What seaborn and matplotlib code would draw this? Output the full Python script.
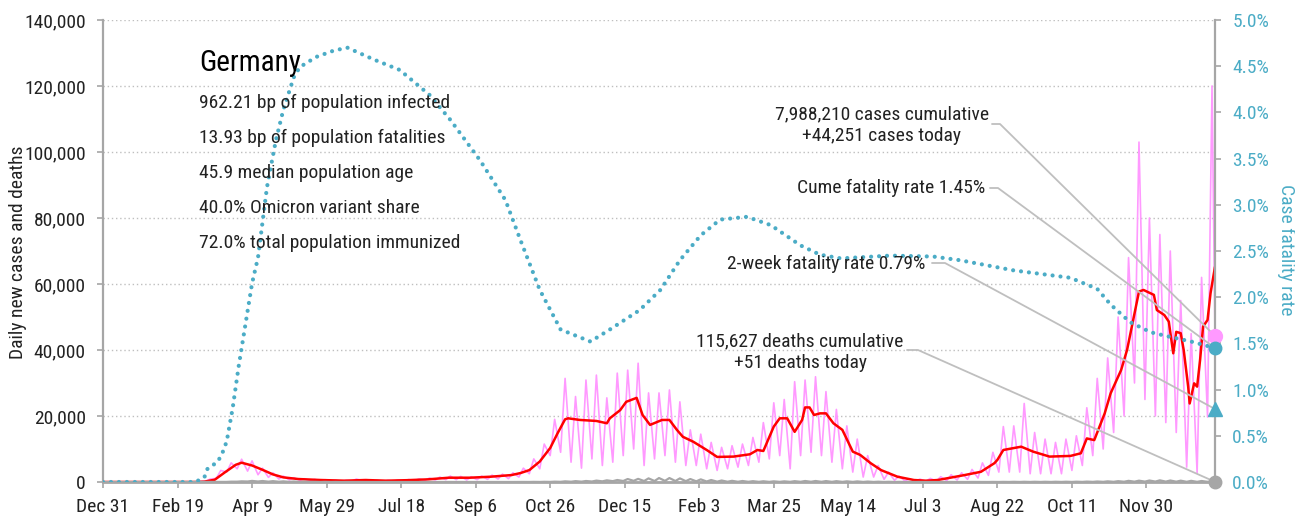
import pandas as pd
import numpy as np
import matplotlib
matplotlib.use('Agg')
import matplotlib.pyplot as plt
import matplotlib.dates as mdates
from matplotlib.lines import Line2D
from matplotlib.transforms import IdentityTransform
from matplotlib.ticker import FuncFormatter
from matplotlib import font_manager
import seaborn as sns

start = '2019-12-31'
end = '2022-01-15'

# daily new cases, read twice a week (monday low / thursday high), from Mon 2020-03-02
cases_mon = [30, 300, 1100, 3000, 4000, 3300, 2200, 1400, 900, 600, 500, 400, 300, 250,
             200, 300, 400, 250, 200, 250, 300, 400, 500, 600, 700, 700, 600, 700,
             800, 900, 1000, 1500, 2500, 4000, 8000, 9000, 6000, 4200, 7000, 5000, 6000, 8000,
             10000, 5000, 7000, 8000, 6000, 5000, 5000, 4000, 3500, 4000, 4500, 5000, 6000, 7000,
             8000, 4000, 8000, 9000, 8000, 6000, 4000, 3000, 1500, 1500, 800, 500, 300, 200,
             200, 300, 400, 600, 800, 1200, 2000, 3000, 3000, 3000, 2500, 2500, 2500, 2500,
             3500, 5000, 8000, 10000, 15000, 20000, 30000, 25000, 20000, 18000, 15000, 4500, 2700, 19700]
cases_thu = [110, 900, 3500, 5800, 6900, 6400, 4200, 2800, 1800, 1300, 1000, 800, 700, 550,
             500, 900, 700, 550, 500, 600, 750, 950, 1200, 1500, 1800, 1700, 1600, 1800,
             2100, 2400, 2800, 4200, 7000, 11500, 19000, 31400, 25900, 30900, 32400, 25500, 33000, 33900,
             36000, 27000, 27000, 27900, 24300, 15800, 14500, 12000, 10500, 11000, 11500, 13500, 18000, 24000,
             25000, 30400, 30900, 31900, 27400, 22000, 17000, 13000, 8000, 5000, 3000, 1800, 1000, 900,
             1100, 1600, 2200, 2800, 3800, 5800, 9000, 16800, 17000, 23800, 15000, 13000, 12000, 13000,
             14000, 22500, 31400, 37600, 50000, 68000, 103000, 80000, 75000, 70000, 55000, 45000, 62000, 120000]
cases_today = 44251

deaths_mon = [0, 0, 5, 30, 100, 150, 150, 100, 80, 40, 20, 15, 10, 5,
              5, 3, 2, 2, 1, 1, 1, 1, 1, 2, 2, 2, 2, 2,
              3, 3, 4, 5, 10, 15, 30, 50, 80, 100, 150, 200, 250, 300,
              350, 300, 300, 350, 300, 250, 200, 150, 100, 80, 70, 60, 50, 40,
              40, 50, 60, 70, 60, 50, 40, 30, 20, 15, 10, 8, 5, 3,
              2, 2, 2, 3, 4, 5, 8, 10, 15, 15, 15, 15, 15, 20,
              20, 30, 40, 50, 60, 80, 100, 120, 130, 120, 100, 60, 50, 60]
deaths_thu = [0, 2, 20, 100, 200, 330, 300, 260, 200, 150, 100, 60, 50, 30,
              25, 20, 15, 10, 10, 8, 8, 8, 8, 10, 10, 10, 10, 10,
              12, 15, 18, 20, 40, 60, 100, 200, 260, 300, 420, 500, 600, 900,
              950, 1100, 1200, 1200, 1100, 900, 800, 600, 450, 350, 300, 250, 220, 200,
              200, 250, 300, 300, 280, 250, 200, 180, 130, 90, 60, 40, 30, 20,
              15, 15, 15, 15, 20, 20, 30, 40, 60, 70, 70, 70, 75, 80,
              90, 120, 150, 200, 250, 350, 400, 450, 500, 450, 400, 350, 300, 280]
deaths_today = 51

# 7-day average of new cases
avg_dates = ['2019-12-31', '2020-03-01', '2020-03-08', '2020-03-15', '2020-03-22', '2020-03-29',
             '2020-04-02', '2020-04-09', '2020-04-16', '2020-04-23', '2020-04-30', '2020-05-10',
             '2020-05-25', '2020-06-10', '2020-06-24', '2020-07-08', '2020-07-22', '2020-08-05',
             '2020-08-19', '2020-09-02', '2020-09-16', '2020-09-30', '2020-10-06', '2020-10-12',
             '2020-10-19', '2020-10-26', '2020-10-31', '2020-11-05', '2020-11-07', '2020-11-15',
             '2020-11-26', '2020-12-03', '2020-12-05', '2020-12-12', '2020-12-16', '2020-12-23',
             '2020-12-27', '2021-01-01', '2021-01-09', '2021-01-14', '2021-01-19', '2021-01-23',
             '2021-01-30', '2021-02-08', '2021-02-15', '2021-02-26', '2021-03-09', '2021-03-14',
             '2021-03-18', '2021-03-25', '2021-03-29', '2021-04-03', '2021-04-08', '2021-04-13',
             '2021-04-15', '2021-04-18', '2021-04-21', '2021-04-25', '2021-04-29', '2021-05-04',
             '2021-05-10', '2021-05-17', '2021-05-22', '2021-05-29', '2021-06-05', '2021-06-16',
             '2021-06-27', '2021-07-05', '2021-07-13', '2021-07-31', '2021-08-11', '2021-08-20',
             '2021-08-22', '2021-08-26', '2021-09-07', '2021-09-15', '2021-09-26', '2021-10-10',
             '2021-10-17', '2021-10-21', '2021-10-26', '2021-11-02', '2021-11-06', '2021-11-13',
             '2021-11-17', '2021-11-25', '2021-11-28', '2021-12-05', '2021-12-07', '2021-12-12',
             '2021-12-15', '2021-12-18', '2021-12-20', '2021-12-23', '2021-12-25', '2021-12-28',
             '2021-12-29', '2022-01-01', '2022-01-03', '2022-01-05', '2022-01-07', '2022-01-10',
             '2022-01-12', '2022-01-15']
avg_cases = [0, 0, 100, 700, 3000, 5200,
             5850, 5000, 3700, 2300, 1400, 900,
             600, 400, 600, 400, 550, 800,
             1300, 1300, 1600, 2100, 2700, 3600,
             6200, 10300, 14800, 19000, 19300, 18800,
             18500, 17800, 19300, 21800, 24300, 25500,
             20300, 17300, 18800, 18800, 15800, 13700,
             12200, 9700, 7600, 7700, 8400, 9700,
             9400, 16800, 19300, 19300, 15200, 18800,
             22600, 22600, 20300, 20800, 20800, 17800,
             15800, 9200, 8200, 5700, 3600, 1600,
             600, 400, 600, 2100, 3100, 5700,
             6700, 9700, 10700, 9200, 7700, 7900,
             8700, 13200, 12700, 20800, 26900, 33900,
             40000, 57700, 58200, 56700, 52100, 50600,
             48600, 39000, 45500, 45100, 40000, 28900,
             23800, 29900, 28900, 37000, 47100, 49100,
             57200, 65200]

# cumulative case fatality rate, %
cfr_dates = ['2019-12-31', '2020-03-02', '2020-03-08', '2020-03-10', '2020-03-17', '2020-03-20',
             '2020-03-23', '2020-03-27', '2020-03-31', '2020-04-05', '2020-04-09', '2020-04-13',
             '2020-04-19', '2020-04-25', '2020-04-30', '2020-05-07', '2020-05-11', '2020-05-22',
             '2020-06-03', '2020-06-12', '2020-06-30', '2020-07-17', '2020-08-06', '2020-08-20',
             '2020-09-09', '2020-09-26', '2020-10-06', '2020-10-19', '2020-11-02', '2020-11-22',
             '2020-12-05', '2020-12-25', '2021-01-08', '2021-01-21', '2021-02-04', '2021-02-17',
             '2021-03-07', '2021-03-23', '2021-04-12', '2021-04-25', '2021-05-09', '2021-06-11',
             '2021-07-10', '2021-07-28', '2021-09-02', '2021-10-10', '2021-10-28', '2021-11-06',
             '2021-11-19', '2021-12-03', '2021-12-16', '2021-12-30', '2022-01-15']
cfr_pct = [0, 0, 0.05, 0.14, 0.22, 0.31,
           0.44, 0.80, 1.25, 1.75, 2.15, 2.43,
           3.19, 3.70, 4.03, 4.38, 4.49, 4.60,
           4.67, 4.70, 4.57, 4.46, 4.19, 3.92,
           3.48, 3.05, 2.62, 2.08, 1.65, 1.52,
           1.65, 1.86, 2.08, 2.40, 2.67, 2.84,
           2.87, 2.78, 2.56, 2.46, 2.42, 2.45,
           2.44, 2.40, 2.29, 2.21, 2.09, 1.92,
           1.73, 1.62, 1.57, 1.52, 1.45]

cume_cfr = 1.45
two_week_cfr = 0.79

country = 'Germany'
stats = ['962.21 bp of population infected',
         '13.93 bp of population fatalities',
         '45.9 median population age',
         '40.0% Omicron variant share',
         '72.0% total population immunized']
cases_label = '7,988,210 cases cumulative\n+44,251 cases today'
cume_label = 'Cume fatality rate 1.45%'
two_week_label = '2-week fatality rate 0.79%'
deaths_label = '115,627 deaths cumulative\n+51 deaths today'

pink = '#FF99FF'
red = '#FF0000'
blue = '#4BACC6'
grey = '#A6A6A6'
lead = '#BFBFBF'

sns.set_style('white')
installed = {f.name for f in font_manager.fontManager.ttflist}
fam = [f for f in ['Roboto Condensed', 'Liberation Sans Narrow', 'Liberation Sans'] if f in installed]
plt.rcParams['font.family'] = fam + ['DejaVu Sans']

# interleave the twice-weekly readings
mondays = pd.date_range('2020-03-02', periods=len(cases_mon), freq='7D')
thursdays = mondays + pd.Timedelta(days=3)
daily = pd.DataFrame({
    'date': list(mondays) + list(thursdays),
    'cases': cases_mon + cases_thu,
    'deaths': deaths_mon + deaths_thu,
})
daily = pd.concat([pd.DataFrame({'date': [pd.Timestamp(start)], 'cases': [0], 'deaths': [0]}),
                   daily,
                   pd.DataFrame({'date': [pd.Timestamp(end)], 'cases': [cases_today], 'deaths': [deaths_today]})])
daily = daily.sort_values('date').reset_index(drop=True)

avg = pd.DataFrame({'date': pd.to_datetime(avg_dates), 'cases': avg_cases})
cfr = pd.DataFrame({'date': pd.to_datetime(cfr_dates), 'pct': cfr_pct})

W, H = 1295, 523
fig = plt.figure(figsize=(W / 100, H / 100), dpi=100)
ax = fig.add_axes([103 / W, 41 / H, 1112 / W, 462 / H])
ax2 = ax.twinx()

sns.lineplot(data=daily, x='date', y='cases', ax=ax, color=pink, lw=1.2, zorder=2)
sns.lineplot(data=avg, x='date', y='cases', ax=ax, color=red, lw=1.8, zorder=3)
sns.lineplot(data=daily, x='date', y='deaths', ax=ax, color=grey, lw=1.6, zorder=3)
sns.lineplot(data=cfr, x='date', y='pct', ax=ax2, color=blue, lw=3,
             linestyle=(0, (0.01, 1.9)), dash_capstyle='round', zorder=4)

ax.set_xlim(pd.Timestamp(start), pd.Timestamp(end))
ax.set_ylim(0, 140000)
ax2.set_ylim(0, 5)
ax.set_yticks(np.arange(0, 140001, 20000))
ax2.set_yticks(np.arange(0, 5.01, 0.5))
ax.yaxis.set_major_formatter(FuncFormatter(lambda v, p: f'{v:,.0f}'))
ax2.yaxis.set_major_formatter(FuncFormatter(lambda v, p: f'{v:.1f}%'))

xt = pd.date_range(start, periods=15, freq='50D')
ax.set_xticks(xt)
ax.set_xticklabels([d.strftime('%b ') + str(d.day) for d in xt])

ax.set_xlabel('')
ax.set_ylabel('')
ax2.set_ylabel('')

ax.yaxis.grid(True, color='#BFBFBF', linestyle=(0, (1, 2)), lw=1)
ax.set_axisbelow(True)

for a in (ax, ax2):
    for s in a.spines.values():
        s.set_visible(False)
ax.spines['left'].set_visible(True)
ax.spines['left'].set_color(grey)
ax.spines['left'].set_linewidth(1.6)
ax.spines['bottom'].set_visible(True)
ax.spines['bottom'].set_color(grey)
ax.spines['bottom'].set_linewidth(2)
ax2.spines['right'].set_visible(True)
ax2.spines['right'].set_color(grey)
ax2.spines['right'].set_linewidth(1.6)

ax.tick_params(axis='y', length=4.5, width=1.2, color=grey, pad=8, labelsize=14, labelcolor='#222222', left=True)
ax.tick_params(axis='x', length=4.5, width=1.2, color=grey, pad=7, labelsize=14, labelcolor='#222222', bottom=True)
ax2.tick_params(axis='y', length=4.5, width=1.2, color=grey, pad=8, labelsize=14, labelcolor=blue, right=True)

fig.text(18 / W, 1 - 252 / H, 'Daily new cases and deaths', rotation=90, ha='center', va='center',
         fontsize=14, color='#222222')
fig.text(1286 / W, 1 - 250 / H, 'Case fatality rate', rotation=270, ha='center', va='center',
         fontsize=14, color=blue)

fig.text(199 / W, 1 - 63 / H, country, ha='left', va='center', fontsize=21, color='black')
for i, s in enumerate(stats):
    fig.text(199 / W, 1 - (103 + 35 * i) / H, s, ha='left', va='center', fontsize=14, color='#222222')

# end-of-series markers
xe = pd.Timestamp(end)
ax2.plot([xe], [cases_today], marker='o', ms=10, color=pink, transform=ax.transData, clip_on=False, zorder=6)
ax2.plot([xe], [cume_cfr], marker='o', ms=9, color=blue, clip_on=False, zorder=6)
ax2.plot([xe], [two_week_cfr], marker='^', ms=10, color=blue, clip_on=False, zorder=6)
ax2.plot([xe], [deaths_today], marker='o', ms=9, color=grey, transform=ax.transData, clip_on=False, zorder=6)

# annotation texts with leader lines
xn = mdates.date2num(xe)
notes = [
    (cases_label, 'center', 882, 125, (992, 124), (1000, 124), ax.transData.transform((xn, cases_today))),
    (cume_label, 'right', 985, 188, (990, 188), (998, 188), ax2.transData.transform((xn, cume_cfr))),
    (two_week_label, 'right', 925, 264, (932, 263), (945, 263), ax2.transData.transform((xn, two_week_cfr))),
    (deaths_label, 'center', 800, 352, (907, 350), (918, 350), ax.transData.transform((xn, deaths_today))),
]
for txt, ha, tx, ty, p0, p1, tgt in notes:
    fig.text(tx / W, 1 - ty / H, txt, ha=ha, va='center', fontsize=14, color='#222222',
             linespacing=1.3, multialignment='center')
    xs = [p0[0], p1[0], tgt[0]]
    ys = [H - p0[1], H - p1[1], tgt[1]]
    ax2.add_line(Line2D(xs, ys, transform=IdentityTransform(), color=lead, lw=1.3,
                        clip_on=False, zorder=5))

fig.savefig('out.png', dpi=100)
